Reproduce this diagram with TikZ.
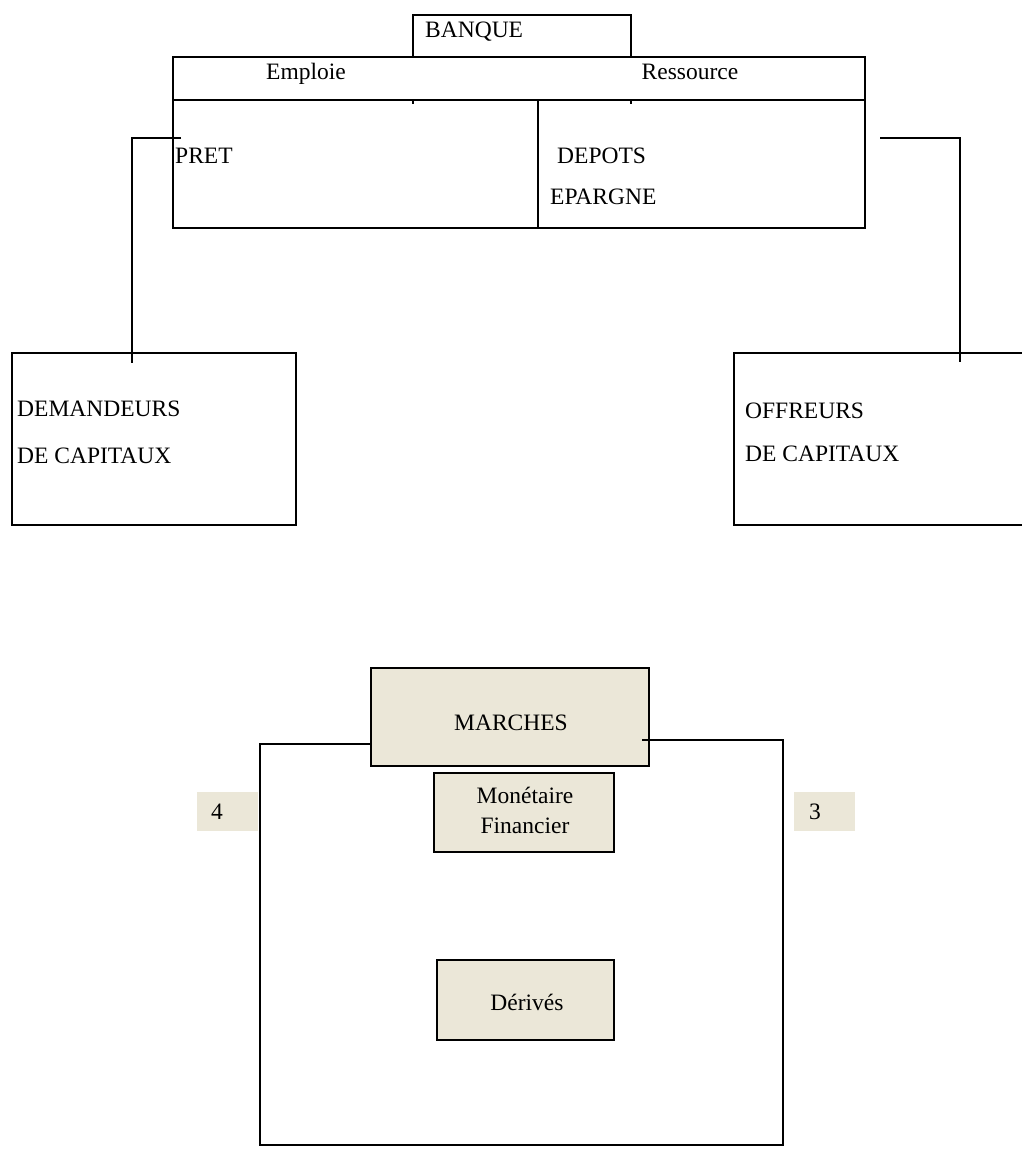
\documentclass[tikz,border=0pt]{standalone}
\usepackage{fontspec}
\setmainfont{Liberation Serif}
\usetikzlibrary{positioning}
\definecolor{beige}{RGB}{235,231,216}

\begin{document}
\begin{tikzpicture}[x=1pt, y=-1pt,
	line/.style={line width=1.6pt},
	box/.style={draw, line width=1.6pt, inner sep=0pt},
	cell/.style={box, fill=beige},
	tag/.style={fill=beige, inner sep=0pt, minimum width=61pt, minimum height=39pt},
	txt/.style={inner sep=0pt, font=\fontsize{23.5}{28}\selectfont}]
	\useasboundingbox (0,0) rectangle (1021,1152);
	%%%%% BANQUE %%%%%
	\node[box, minimum width=218pt, minimum height=42pt] (banque) at (522,36) {};
	\node[txt, anchor=base west] (banqueT) at (425,37) {BANQUE};
	
	\node[box, minimum width=692pt, minimum height=171pt] (table) at (519,142.5) {};
	\draw[line] (173,100) -- (865,100);
	\draw[line] (538,100) -- (538,228);
	\draw[line] (413,100) -- (413,104);
	\draw[line] (631,100) -- (631,104);
	
	\node[txt, anchor=base] (emploi) at (306,79) {Emploie};
	\node[txt, anchor=base] (ressource) at (690,79) {Ressource};
	\node[txt, anchor=base west] (pret) at (175,163) {PRET};
	\node[txt, anchor=base west] (depots) at (557,163) {DEPOTS};
	\node[txt, anchor=base west] (epargne) at (550,204) {EPARGNE};
	
	%%%%% AGENTS %%%%%
	\node[box, minimum width=284pt, minimum height=172pt] (dem) at (154,439) {};
	\node[txt, anchor=base west] (dem1) at (17,416) {DEMANDEURS};
	\node[txt, anchor=base west] (dem2) at (17,463) {DE CAPITAUX};
	\node[box, minimum width=296pt, minimum height=172pt] (off) at (882,439) {};
	\node[txt, anchor=base west] (off1) at (745,418) {OFFREURS};
	\node[txt, anchor=base west] (off2) at (745,461) {DE CAPITAUX};
	
	\coordinate (pretIn) at (181,138);
	\coordinate (depIn) at (880,138);
	\coordinate (demIn) at (132,363);
	\coordinate (offIn) at (960,362);
	\draw[line] (pretIn) -| (demIn);
	\draw[line] (depIn) -| (offIn);
	
	%%%%% MARCHES %%%%%
	\node[cell, minimum width=278pt, minimum height=98pt] (marches) at (510,717) {};
	\node[txt, anchor=base] (marchesT) at (511,730) {MARCHES};
	\node[cell, minimum width=180pt, minimum height=79pt] (monfin) at (524,812.5) {};
	\node[txt, anchor=base] (mon) at (525,803) {Monétaire};
	\node[txt, anchor=base] (fin) at (525,833) {Financier};
	\node[cell, minimum width=177pt, minimum height=80pt] (derives) at (525.5,1000) {};
	\node[txt, anchor=base] (derT) at (527,1010) {Dérivés};
	
	\coordinate (mL) at (371,744);
	\coordinate (mR) at (642,740);
	\coordinate (fBL) at (260,1145);
	\coordinate (fBR) at (783,1145);
	\draw[line] (mL) -| (fBL) -- (fBR) |- (mR);
	
	\node[tag] (quatre) at (227.5,811.5) {};
	\node[txt, anchor=base west] (quatreT) at (211,819) {4};
	\node[tag] (trois) at (824.5,811.5) {};
	\node[txt, anchor=base west] (troisT) at (809,819) {3};
	%%%%% END %%%%%
\end{tikzpicture}
\end{document}
